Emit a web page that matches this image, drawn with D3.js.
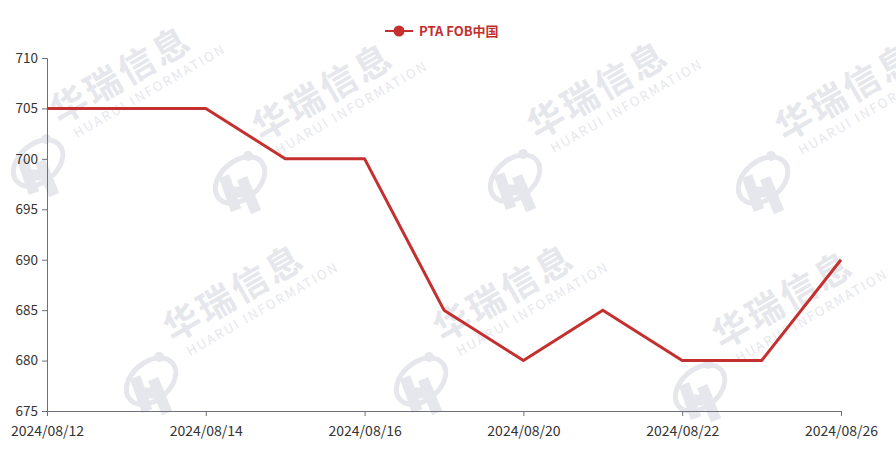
<!DOCTYPE html>
<html><head><meta charset="utf-8">
<script src="https://cdn.jsdelivr.net/npm/d3@7"></script>
<style>body{margin:0;background:#fff}svg{display:block;font-family:"Noto Sans CJK SC","Noto Sans",sans-serif}</style>
</head><body>
<script>
const categories = ["2024/08/12","2024/08/13","2024/08/14","2024/08/15","2024/08/16","2024/08/19","2024/08/20","2024/08/21","2024/08/22","2024/08/23","2024/08/26"];
const values = [705,705,705,700,700,685,680,685,680,680,690];
const seriesName = "PTA FOB中国";
const yTicks = [675,680,685,690,695,700,705,710];
const xLabelCats = ["2024/08/12","2024/08/14","2024/08/16","2024/08/20","2024/08/22","2024/08/26"];
const watermarks = [[60,125],[262,142],[537,140],[785,142],[173,343],[443,343],[722,350]];

const W=896,H=458, L=47, R=841, T=58, B=411;
const color="#c4302f", wm="#e6e7ec";
const svg=d3.select("body").append("svg").attr("width",W).attr("height",H);

// watermarks
const wg=svg.append("g");
watermarks.forEach(([x,y])=>{
  const g=wg.append("g").attr("transform",`translate(${x},${y}) rotate(-30)`);
  g.append("text").attr("x",0).attr("y",0).attr("font-size",36).attr("font-weight",700).attr("fill",wm).attr("letter-spacing",3).text("华瑞信息");
  g.append("text").attr("x",8).attr("y",20).attr("font-size",13).attr("fill",wm).attr("letter-spacing",2).text("HUARUI INFORMATION");
  const lg=g.append("g").attr("transform","translate(-38,22) rotate(30)");
  lg.append("ellipse").attr("cx",0).attr("cy",0).attr("rx",28).attr("ry",19).attr("transform","rotate(-40)").attr("fill","none").attr("stroke",wm).attr("stroke-width",5);
  lg.append("circle").attr("cx",8).attr("cy",-24).attr("r",5).attr("fill",wm);
  lg.append("path").attr("d","M-16,-4 L-4,30 M2,-2 L16,32 M-10,12 L12,12").attr("stroke",wm).attr("stroke-width",11).attr("fill","none");
});

const x=d3.scalePoint().domain(categories).range([L,R]);
const y=d3.scaleLinear().domain([675,710]).range([B,T]);

const yAxis=svg.append("g").attr("transform",`translate(${L},0)`)
  .call(d3.axisLeft(y).tickValues(yTicks).tickSize(5).tickPadding(4));
const xAxis=svg.append("g").attr("transform",`translate(0,${B})`)
  .call(d3.axisBottom(x).tickValues(xLabelCats).tickSize(5).tickPadding(10));
[yAxis,xAxis].forEach(a=>{
  a.select(".domain").attr("stroke","#6e7079");
  a.selectAll(".tick line").attr("stroke","#6e7079");
  a.selectAll("text").attr("fill","#333").attr("font-size",14).attr("font-family","'Noto Sans CJK SC','Noto Sans',sans-serif");
});
yAxis.selectAll("text").attr("font-size",13.5);

const line=d3.line().x((d,i)=>x(categories[i])).y(d=>y(d));
svg.append("path").datum(values).attr("d",line).attr("fill","none").attr("stroke",color).attr("stroke-width",3).attr("stroke-linejoin","round");

// legend
const lgd=svg.append("g");
lgd.append("line").attr("x1",385).attr("x2",413).attr("y1",31).attr("y2",31).attr("stroke",color).attr("stroke-width",2);
lgd.append("circle").attr("cx",399).attr("cy",31).attr("r",5.5).attr("fill",color);
lgd.append("text").attr("x",419).attr("y",35.5).attr("fill",color).attr("font-size",13).attr("font-weight",700).text(seriesName);
</script>
</body></html>
